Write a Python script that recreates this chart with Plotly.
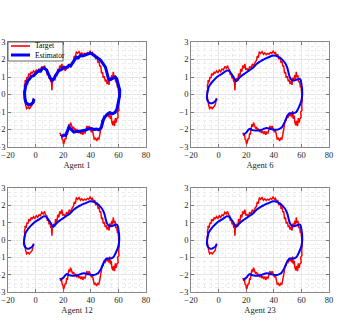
import plotly.graph_objects as go
from plotly.subplots import make_subplots

# target trajectory (same in every panel)
target_x = [-1.5, -1.8, -2.5, -3.5, -4.5, -5.5, -6.5, -7.2, -7.8, -8.2, -8.3, -7.8, -8.1, -7.5, -7.8, -6.8,
            -6.2, -5.5, -5.0, -4.0, -3.2, -2.5, -1.5, -0.5, 0.5, 1.5, 2.5, 3.5, 4.5, 5.5, 6.5, 7.2, 8.0,
            8.5, 9.2, 9.8, 10.5, 11.0, 11.5, 11.8, 12.2, 13.0, 14.0, 14.5, 15.5, 16.0, 16.8, 17.5, 18.2,
            19.0, 19.8, 20.5, 21.5, 22.5, 23.5, 24.5, 25.5, 26.5, 27.5, 28.0, 28.8, 29.5, 30.5, 31.5,
            32.5, 33.5, 34.5, 35.5, 36.5, 37.5, 38.5, 39.5, 40.5, 41.2, 42.0, 42.8, 43.5, 44.5, 45.2,
            46.0, 46.5, 47.2, 47.8, 48.5, 49.0, 49.8, 50.5, 51.2, 51.8, 52.5, 53.2, 53.8, 54.5, 55.2,
            55.8, 56.3, 56.8, 57.5, 58.0, 58.8, 59.3, 59.8, 60.3, 60.6, 60.2, 60.4, 59.5, 59.8, 58.8,
            58.5, 57.8, 57.2, 56.5, 56.0, 55.3, 54.8, 54.2, 53.7, 53.2, 52.5, 51.8, 51.0, 50.3, 49.5,
            48.8, 48.2, 47.6, 47.2, 46.5, 45.8, 45.0, 44.2, 43.4, 42.5, 41.8, 41.2, 40.5, 39.5, 38.8,
            38.0, 37.2, 36.5, 35.8, 35.0, 34.2, 33.5, 32.8, 32.0, 31.2, 30.5, 29.8, 29.0, 28.2, 27.5,
            26.8, 26.0, 25.3, 24.8, 24.2, 23.5, 23.0, 22.5, 22.0, 21.5, 21.0, 20.3, 19.8, 19.2, 18.8,
            18.2, 17.8, 17.5]
target_y = [-0.2, -0.45, -0.6, -0.7, -0.8, -0.72, -0.8, -0.6, -0.4, -0.1, 0.2, 0.3, 0.5, 0.7, 0.8, 0.75,
            1.0, 0.95, 1.2, 1.1, 1.3, 1.2, 1.35, 1.25, 1.4, 1.3, 1.45, 1.4, 1.6, 1.5, 1.65, 1.45, 1.4,
            1.1, 1.2, 0.9, 1.0, 0.7, 0.8, 0.25, 0.75, 0.9, 0.85, 1.2, 1.05, 1.45, 1.3, 1.65, 1.5,
            1.75, 1.4, 1.5, 1.35, 1.6, 1.5, 1.75, 1.6, 1.85, 1.95, 2.2, 2.1, 2.45, 2.35, 2.45,
            2.3, 2.38, 2.28, 2.35, 2.3, 2.4, 2.35, 2.48, 2.35, 2.4, 2.2, 2.3, 2.05, 2.1, 1.85,
            1.9, 1.6, 1.65, 1.2, 1.3, 0.95, 1.05, 0.75, 0.85, 0.6, 0.75, 0.55, 0.95, 0.8, 1.1,
            0.9, 1.3, 1.0, 1.1, 0.7, 0.75, 0.4, 0.45, 0.0, -0.3, -0.6, -0.9, -1.0, -1.3, -1.4,
            -1.6, -1.35, -1.8, -1.5, -1.75, -1.6, -1.2, -1.4, -0.95, -1.3, -1.05, -1.2, -1.15, -1.3, -1.25,
            -1.5, -1.45, -1.8, -2.1, -2.3, -2.55, -2.5, -2.65, -2.5, -2.55, -2.3, -2.05, -2.15, -1.95, -1.8,
            -1.95, -1.8, -2.0, -2.2, -2.15, -2.3, -2.1, -2.25, -2.1, -2.2, -2.0, -2.15, -1.95, -2.05, -1.85,
            -1.95, -1.75, -1.6, -1.85, -1.7, -2.0, -2.3, -2.2, -2.55, -2.5, -2.75, -2.85, -2.6, -2.55, -2.3,
            -2.35, -2.2, -2.25]

# agent 1 estimate (noisy)
est1_x = [-1.2, -1.7, -2.6, -3.6, -4.8, -6.0, -7.0, -7.7, -8.1, -8.0, -7.6, -7.2, -6.4, -5.5, -4.3, -3.1,
          -1.5, 0.0, 1.2, 2.4, 3.6, 4.8, 6.0, 7.0, 8.0, 8.8, 9.6, 10.8, 12.0, 13.2, 14.5, 15.6, 16.9,
          18.5, 20.5, 22.2, 24.1, 25.3, 26.5, 28.0, 29.6, 31.0, 32.5, 34.2, 36.1, 38.0, 39.8, 41.2,
          42.7, 44.2, 45.8, 47.0, 48.2, 49.5, 50.6, 51.3, 51.8, 52.4, 53.0, 54.2, 55.4, 56.6, 57.8,
          58.8, 59.5, 60.4, 61.0, 60.8, 60.2, 59.7, 59.0, 58.5, 57.8, 56.6, 55.4, 54.2, 53.0, 51.8,
          50.6, 49.7, 48.9, 48.2, 47.7, 46.8, 45.8, 44.0, 42.2, 40.4, 38.6, 36.8, 35.0, 33.2, 31.3,
          29.5, 27.7, 26.5, 25.3, 24.1, 23.5, 22.9, 22.3, 21.7, 20.5, 19.3, 18.5]
est1_y = [-0.25, -0.44, -0.52, -0.57, -0.6, -0.53, -0.45, -0.25, -0.05, 0.13, 0.3, 0.51, 0.62, 0.8, 0.9, 1.03,
          1.08, 1.18, 1.25, 1.37, 1.33, 1.48, 1.52, 1.45, 1.4, 1.25, 1.09, 0.92, 0.8, 0.9, 1.09, 1.2, 1.37,
          1.42, 1.56, 1.52, 1.66, 1.62, 1.75, 1.95, 2.13, 2.1, 2.23, 2.2, 2.27, 2.3, 2.36, 2.3,
          2.23, 2.15, 2.04, 1.97, 1.85, 1.72, 1.56, 1.36, 1.18, 0.98, 0.84, 0.86, 0.9, 0.94, 0.99,
          0.9, 0.7, 0.45, 0.23, -0.1, -0.44, -0.62, -0.82, -0.9, -1.01, -1.06, -1.1, -1.05, -1.07, -1.15,
          -1.26, -1.35, -1.49, -1.68, -1.87, -1.95, -2.02, -1.98, -2.0, -1.95, -1.96, -2.02, -2.06, -2.08, -2.11,
          -2.12, -2.15, -2.05, -1.96, -1.87, -2.0, -2.15, -2.25, -2.34, -2.32, -2.36, -2.42]

# agents 6, 12 and 23 estimate (smooth)
est_x = [-1.2, -2.4, -3.6, -4.8, -6.0, -7.2, -8.0, -8.4, -8.4, -8.0, -7.2, -6.0, -4.8, -3.0, -1.2,
         0.6, 2.4, 4.2, 6.0, 7.4, 8.4, 9.6, 10.8, 11.8, 12.5, 13.4, 14.4, 15.6, 16.8, 18.6, 20.4,
         22.2, 24.0, 25.8, 27.5, 29.3, 31.1, 32.9, 34.7, 37.1, 39.5, 41.3, 43.1, 45.0, 46.7, 48.0,
         49.1, 49.8, 50.3, 50.9, 51.5, 52.4, 53.4, 54.8, 56.3, 57.6, 58.7, 59.5, 60.0, 60.5, 60.6,
         60.4, 60.0, 59.2, 58.2, 57.3, 56.3, 55.1, 53.9, 52.7, 51.5, 50.5, 49.6, 48.8, 47.9, 46.7,
         45.5, 43.7, 41.9, 40.1, 38.3, 36.5, 34.7, 32.9, 31.1, 29.3, 27.5, 25.7, 24.0, 22.8, 21.6,
         20.4, 19.2, 18.0]
est_y = [-0.25, -0.38, -0.45, -0.5, -0.5, -0.44, -0.35, -0.25, -0.05, 0.13, 0.42, 0.58, 0.7, 0.86, 1.0,
         1.1, 1.18, 1.28, 1.37, 1.35, 1.28, 1.14, 1.0, 0.86, 0.76, 0.8, 0.9, 1.0, 1.08, 1.18, 1.28,
         1.38, 1.47, 1.6, 1.75, 1.85, 1.94, 2.01, 2.08, 2.16, 2.23, 2.22, 2.17, 2.07, 1.94, 1.82,
         1.66, 1.52, 1.37, 1.18, 1.0, 0.88, 0.8, 0.8, 0.84, 0.87, 0.9, 0.82, 0.61, 0.32, 0.04,
         -0.16, -0.34, -0.54, -0.72, -0.87, -1.0, -1.05, -1.07, -1.07, -1.07, -1.14, -1.26, -1.42, -1.58, -1.76,
         -1.9, -1.98, -2.02, -2.01, -1.98, -1.94, -1.92, -1.96, -2.02, -2.05, -2.06, -2.05, -2.02, -1.96, -2.02,
         -2.15, -2.23, -2.3]

agents = ["Agent 1", "Agent 6", "Agent 12", "Agent 23"]
estimates = [(est1_x, est1_y), (est_x, est_y), (est_x, est_y), (est_x, est_y)]

x_ticks = [-20, 0, 20, 40, 60, 80]
y_ticks = [-3, -2, -1, 0, 1, 2, 3]

W, H = 361, 335
font = "Liberation Serif"

fig = make_subplots(rows=2, cols=2)

for i, name in enumerate(agents):
    r, c = i // 2 + 1, i % 2 + 1
    ex, ey = estimates[i]
    fig.add_trace(go.Scatter(x=target_x, y=target_y, mode="lines", name="Target",
                             line=dict(color="#ff0000", width=1.5), showlegend=False), row=r, col=c)
    fig.add_trace(go.Scatter(x=ex, y=ey, mode="lines", name="Estimator",
                             line=dict(color="#0000ff", width=3 if i == 0 else 2,
                                       shape="linear" if i == 0 else "spline"),
                             showlegend=False), row=r, col=c)

# panel positions in pixels (left, right, top, bottom)
boxes = [(8, 146, 42, 147), (191, 329, 42, 147), (8, 146, 188, 292), (191, 329, 188, 292)]
for i, (l, rr, t, b) in enumerate(boxes):
    n = "" if i == 0 else str(i + 1)
    fig.layout["xaxis" + n].update(
        domain=[l / W, rr / W], range=[-20, 80], tickvals=x_ticks,
        title=dict(text=agents[i], font=dict(family=font, size=8.5, color="#262626"), standoff=2),
        showgrid=True, gridcolor="#e6e6e6", gridwidth=0.6,
        minor=dict(dtick=5, showgrid=True, gridcolor="#ececec", griddash="dot", gridwidth=0.5),
        ticks="inside", ticklen=3, tickcolor="#777", showline=True, linecolor="#888", linewidth=0.8,
        mirror="ticks", zeroline=False, automargin=False,
        tickfont=dict(family=font, size=8.5, color="#262626"))
    fig.layout["yaxis" + n].update(
        domain=[(H - b) / H, (H - t) / H], range=[-3, 3], tickvals=y_ticks,
        showgrid=True, gridcolor="#e6e6e6", gridwidth=0.6,
        minor=dict(dtick=0.25, showgrid=True, gridcolor="#ececec", griddash="dot", gridwidth=0.5),
        ticks="inside", ticklen=3, tickcolor="#777", showline=True, linecolor="#888", linewidth=0.8,
        mirror="ticks", zeroline=False, automargin=False,
        tickfont=dict(family=font, size=8.5, color="#262626"))

# legend box in the first panel
def px(x):
    return x / W

def py(y):
    return (H - y) / H

fig.add_shape(type="rect", xref="paper", yref="paper", x0=px(8), x1=px(63), y0=py(61), y1=py(42),
              fillcolor="white", line=dict(color="#444", width=0.8), layer="above")
fig.add_shape(type="line", xref="paper", yref="paper", x0=px(11), x1=px(30), y0=py(46), y1=py(46),
              line=dict(color="#ff0000", width=1.6), layer="above")
fig.add_shape(type="line", xref="paper", yref="paper", x0=px(11), x1=px(30), y0=py(55), y1=py(55),
              line=dict(color="#0000ff", width=3), layer="above")
for label, yy in [("Target", 46), ("Estimator", 55)]:
    fig.add_annotation(text=label, xref="paper", yref="paper", x=px(32.5), y=py(yy),
                       xanchor="left", yanchor="middle", showarrow=False,
                       font=dict(family=font, size=7.6, color="#000"))

fig.update_layout(width=W, height=H, margin=dict(l=0, r=0, t=0, b=0),
                  plot_bgcolor="white", paper_bgcolor="white", showlegend=False)

# page body has a default 8px margin, remove it so the figure fills the window
fig.write_html("out.html", config={"displayModeBar": False},
               post_script="document.body.style.margin='0';")
